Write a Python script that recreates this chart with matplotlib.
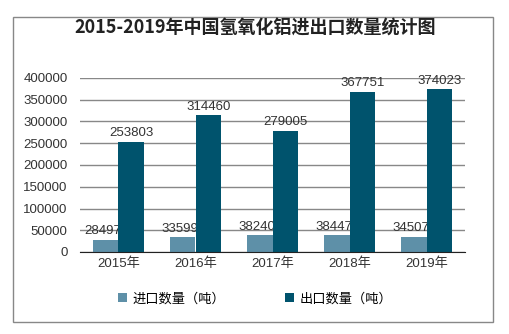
import numpy as np
import matplotlib
matplotlib.use("Agg")
from matplotlib import pyplot as plt
from matplotlib.patches import Rectangle

plt.rcParams['font.family'] = ['Liberation Sans', 'Noto Sans CJK SC', 'DejaVu Sans']

years = ['2015年', '2016年', '2017年', '2018年', '2019年']
imports = [28497, 33599, 38240, 38447, 34507]
exports = [253803, 314460, 279005, 367751, 374023]
yticks = [0, 50000, 100000, 150000, 200000, 250000, 300000, 350000, 400000]

fig = plt.figure(figsize=(5.1, 3.34), dpi=100)
W, H = 510, 334
ax = fig.add_axes([80 / W, 1 - 252 / H, 385 / W, 174 / H])

x = np.arange(len(years))
w = 0.33
ax.bar(x - w / 2, imports, w, color='#5E90A8', label='进口数量（吨）', zorder=2)
ax.bar(x + w / 2, exports, w, color='#00536D', label='出口数量（吨）', zorder=4)

for i in range(len(years)):
    ax.text(x[i] - w / 2 - 0.04, imports[i] + 6000, str(imports[i]), ha='center', va='bottom',
            fontsize=9.5, color='#333333', zorder=3)
    ax.text(x[i] + w / 2, exports[i] + 6000, str(exports[i]), ha='center', va='bottom',
            fontsize=9.5, color='#333333', zorder=3)

ax.set_xlim(-0.5, len(years) - 0.5)
ax.set_ylim(0, 400000)
ax.set_yticks(yticks)
ax.set_yticklabels([str(v) for v in yticks], fontsize=9.5, color='#333333')
ax.set_xticks(x)
ax.set_xticklabels(years, fontsize=9.5, color='#333333')
ax.tick_params(length=0, pad=4)
ax.tick_params(axis='y', pad=9)
ax.yaxis.grid(True, color='#888888', linewidth=1, zorder=0)
ax.set_axisbelow(True)
for s in ['left', 'right', 'top']:
    ax.spines[s].set_visible(False)
ax.spines['bottom'].set_color('#222222')
ax.spines['bottom'].set_zorder(5)

fig.text(0.5, 1 - 28 / H, '2015-2019年中国氢氧化铝进出口数量统计图', ha='center', va='center',
         fontsize=13, fontweight='bold', color='#222222',
         family=['Noto Sans CJK SC', 'DejaVu Sans'])

fig.legend(loc='center', bbox_to_anchor=(0.5, 1 - 299 / H), ncol=2, frameon=False,
           fontsize=9.5, handlelength=0.7, handleheight=0.7, columnspacing=4.5,
           handletextpad=0.4)

fig.patches.append(Rectangle((13 / W, 1 - 322 / H), 480 / W, 305 / H, transform=fig.transFigure,
                             fill=False, edgecolor='#888888', linewidth=1))

fig.savefig('out.png', dpi=100)
